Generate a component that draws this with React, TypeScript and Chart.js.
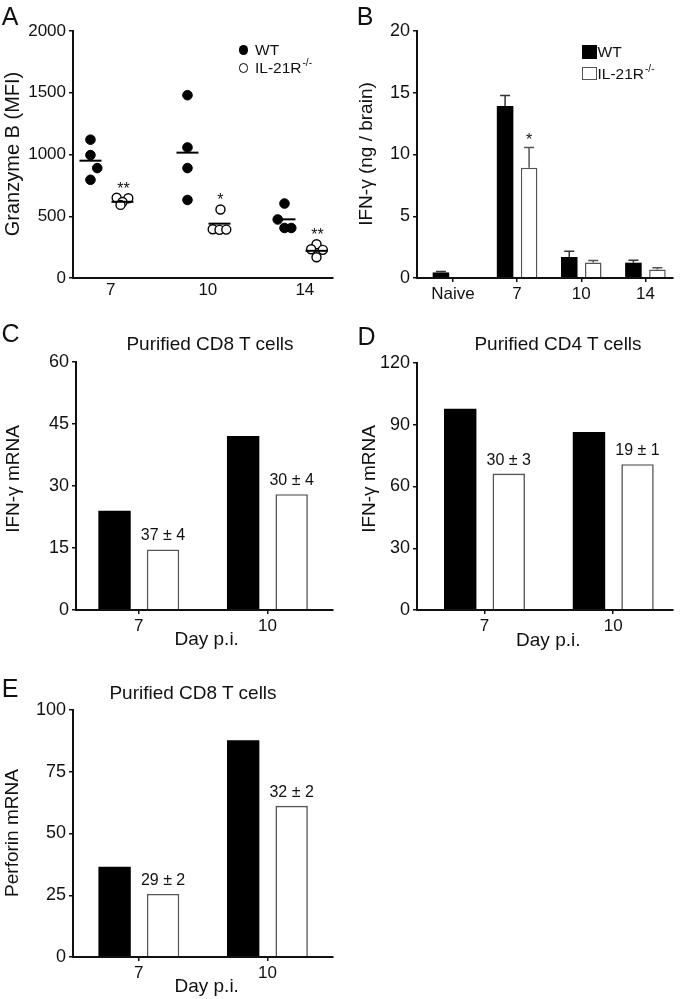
import React, { useEffect, useRef } from 'react';
import { Chart, registerables } from 'chart.js';
Chart.register(...registerables);

const FONT = "'Liberation Sans', Arial, Helvetica, sans-serif";
const W = 681;
const H = 999;
const YW = 60;
const XH = 30;
const INK = '#111';

// ---------- Panel A: Granzyme B (MFI) dot plot ----------
const daysA = ['7', '10', '14'];
const wtGranzyme = [
  [1120, 995, 890, 795],
  [1480, 1057, 890, 632],
  [603, 474, 405, 405],
];
const koGranzyme = [
  [650, 646, 615, 592],
  [555, 395, 390, 392],
  [273, 233, 228, 168],
];
const wtJitter = [
  [0, 0, 0.07, 0],
  [0, 0, 0, 0],
  [0, -0.07, 0, 0.07],
];
const koJitter = [
  [-0.06, 0.06, 0.0, -0.02],
  [0.01, -0.07, 0.0, 0.07],
  [0.0, -0.055, 0.065, 0.0],
];
const wtMeanA = [950, 1015, 475];
const koMeanA = [617, 440, 220];
const sigA = ['**', '*', '**'];

// ---------- Panel B: IFN-g (ng / brain) ----------
const groupsB = ['Naive', '7', '10', '14'];
const wtIfn = [0.45, 13.92, 1.7, 1.24];
const koIfn = [null, 8.92, 1.26, 0.68];
const wtIfnErr = [0.07, 0.85, 0.47, 0.2];
const koIfnErr = [null, 1.65, 0.15, 0.16];
const sigB = ['', '*', '', ''];

// ---------- Panels C, D, E ----------
const daysCDE = ['7', '10'];
const wtCd8Ifn = [24.0, 42.1];
const koCd8Ifn = [14.65, 28.0];
const noteC = ['37 ± 4', '30 ± 4'];
const wtCd4Ifn = [97.8, 86.5];
const koCd4Ifn = [66.3, 70.8];
const noteD = ['30 ± 3', '19 ± 1'];
const wtCd8Perf = [36.5, 87.8];
const koCd8Perf = [25.5, 61.2];
const noteE = ['29 ± 2', '32 ± 2'];

type Frame = { L: number; T: number; R: number; B: number };

const layoutFor = (f: Frame) => ({
  padding: { left: f.L - YW, top: f.T, right: W - f.R, bottom: H - f.B - XH },
});

const yAxis = (max: number, step: number, size = 18) => ({
  type: 'linear',
  min: 0,
  max,
  ticks: {
    stepSize: step,
    color: INK,
    font: { family: FONT, size },
    padding: 3,
    callback: (v: any) => String(v),
  },
  grid: { drawOnChartArea: false, drawTicks: true, tickLength: 4, color: INK, lineWidth: 1.5 },
  border: { display: true, color: INK, width: 2, z: 1 },
  afterFit: (s: any) => {
    s.width = YW;
  },
});

const xAxis = (min: number, max: number, labels: string[], ticksOn: boolean, size = 17) => ({
  type: 'linear',
  min,
  max,
  offset: false,
  ticks: {
    stepSize: 1,
    includeBounds: false,
    autoSkip: false,
    maxRotation: 0,
    minRotation: 0,
    color: INK,
    font: { family: FONT, size },
    padding: 2,
    callback: (v: any) => (Number.isInteger(v) && labels[v] !== undefined ? labels[v] : ''),
  },
  grid: {
    offset: false,
    drawOnChartArea: false,
    drawTicks: ticksOn,
    tickLength: ticksOn ? 4 : 0,
    color: INK,
    lineWidth: 1.5,
  },
  border: { display: true, color: INK, width: 2, z: 1 },
  afterFit: (s: any) => {
    s.height = XH;
  },
});

const basePlugins = { legend: { display: false }, tooltip: { enabled: false }, title: { display: false } };

// ---------- configs ----------
const WT_OFF = -0.21;
const KO_OFF = 0.12;

function configA(): any {
  const wtPts: any[] = [];
  const koPts: any[] = [];
  wtGranzyme.forEach((vals, d) =>
    vals.forEach((y, k) => wtPts.push({ x: d + WT_OFF + wtJitter[d][k], y }))
  );
  koGranzyme.forEach((vals, d) =>
    vals.forEach((y, k) => koPts.push({ x: d + KO_OFF + koJitter[d][k], y }))
  );
  const wtMeans = wtMeanA.map((y, d) => ({ x: d + WT_OFF, y }));
  const koMeans = koMeanA.map((y, d) => ({ x: d + KO_OFF, y }));
  const stars = {
    id: 'starsA',
    afterDatasetsDraw(chart: any) {
      const { ctx, scales } = chart;
      ctx.save();
      ctx.fillStyle = INK;
      ctx.font = `16px ${FONT}`;
      ctx.textAlign = 'center';
      ctx.textBaseline = 'alphabetic';
      sigA.forEach((s, d) => {
        const top = Math.max(...koGranzyme[d]);
        ctx.fillText(s, scales.x.getPixelForValue(d + KO_OFF + 0.01), scales.y.getPixelForValue(top) - 4);
      });
      ctx.restore();
    },
  };
  return {
    type: 'scatter',
    data: {
      datasets: [
        { label: 'WT mean', data: wtMeans, pointStyle: 'line', pointRadius: 11, pointBorderColor: '#000', pointBorderWidth: 2, order: 1 },
        { label: 'KO mean', data: koMeans, pointStyle: 'line', pointRadius: 11, pointBorderColor: '#000', pointBorderWidth: 2, order: 1 },
        { label: 'WT', data: wtPts, pointRadius: 4.8, pointBackgroundColor: '#000', pointBorderColor: '#000', pointBorderWidth: 1, order: 2 },
        { label: 'IL-21R-/-', data: koPts, pointRadius: 4.5, pointBackgroundColor: '#fff', pointBorderColor: '#000', pointBorderWidth: 1.4, order: 2 },
      ],
    },
    options: {
      responsive: false,
      maintainAspectRatio: false,
      animation: false,
      devicePixelRatio: 1,
      layout: layoutFor({ L: 73, T: 31, R: 333, B: 278 }),
      plugins: basePlugins,
      scales: {
        x: xAxis(-0.39, 2.29, daysA, false, 17),
        y: yAxis(2000, 500, 17),
      },
    },
    plugins: [stars],
  };
}

function configB(): any {
  const errPlugin = {
    id: 'errB',
    afterDatasetsDraw(chart: any) {
      const { ctx, scales } = chart;
      ctx.save();
      ctx.lineWidth = 1.5;
      [wtIfnErr, koIfnErr].forEach((errs, di) => {
        const vals = di === 0 ? wtIfn : koIfn;
        const meta = chart.getDatasetMeta(di);
        ctx.strokeStyle = di === 0 ? '#333' : '#555';
        meta.data.forEach((el: any, i: number) => {
          const v = vals[i];
          const e = errs[i];
          if (v == null || e == null) return;
          const top = scales.y.getPixelForValue(v + e);
          ctx.beginPath();
          ctx.moveTo(el.x, el.y);
          ctx.lineTo(el.x, top);
          ctx.moveTo(el.x - 5, top);
          ctx.lineTo(el.x + 5, top);
          ctx.stroke();
        });
      });
      ctx.fillStyle = INK;
      ctx.font = `16px ${FONT}`;
      ctx.textAlign = 'center';
      ctx.textBaseline = 'alphabetic';
      const meta = chart.getDatasetMeta(1);
      sigB.forEach((s, i) => {
        if (!s) return;
        const v = (koIfn[i] as number) + (koIfnErr[i] as number);
        ctx.fillText(s, meta.data[i].x, scales.y.getPixelForValue(v) - 2);
      });
      ctx.restore();
    },
  };
  return {
    type: 'bar',
    data: {
      datasets: [
        {
          label: 'WT',
          data: wtIfn.map((y, i) => ({ x: i, y })),
          backgroundColor: '#000',
          borderColor: '#000',
          borderWidth: 0,
          categoryPercentage: 0.748,
          barPercentage: 0.69,
        },
        {
          label: 'IL-21R-/-',
          data: koIfn.map((y, i) => ({ x: i, y })),
          backgroundColor: '#fff',
          borderColor: '#555',
          borderWidth: 1.5,
          categoryPercentage: 0.748,
          barPercentage: 0.69,
        },
      ],
    },
    options: {
      responsive: false,
      maintainAspectRatio: false,
      animation: false,
      devicePixelRatio: 1,
      layout: layoutFor({ L: 417, T: 31, R: 673, B: 278 }),
      plugins: basePlugins,
      scales: {
        x: xAxis(-0.56, 3.43, groupsB, true, 17),
        y: yAxis(20, 5, 18),
      },
    },
    plugins: [errPlugin],
  };
}

function configMrna(
  wt: number[],
  ko: number[],
  notes: string[],
  yMax: number,
  yStep: number,
  frame: Frame,
  xMin: number,
  xMax: number
): any {
  const notePlugin = {
    id: 'notes',
    afterDatasetsDraw(chart: any) {
      const { ctx } = chart;
      const meta = chart.getDatasetMeta(1);
      ctx.save();
      ctx.fillStyle = INK;
      ctx.font = `16px ${FONT}`;
      ctx.textAlign = 'center';
      ctx.textBaseline = 'alphabetic';
      notes.forEach((n, i) => {
        const el = meta.data[i];
        ctx.fillText(n, el.x, el.y - 9);
      });
      ctx.restore();
    },
  };
  return {
    type: 'bar',
    data: {
      datasets: [
        {
          label: 'WT',
          data: wt.map((y, i) => ({ x: i, y })),
          backgroundColor: '#000',
          borderColor: '#000',
          borderWidth: 0,
          categoryPercentage: 0.754,
          barPercentage: 0.668,
        },
        {
          label: 'IL-21R-/-',
          data: ko.map((y, i) => ({ x: i, y })),
          backgroundColor: '#fff',
          borderColor: '#555',
          borderWidth: 1.6,
          categoryPercentage: 0.754,
          barPercentage: 0.668,
        },
      ],
    },
    options: {
      responsive: false,
      maintainAspectRatio: false,
      animation: false,
      devicePixelRatio: 1,
      layout: layoutFor(frame),
      plugins: basePlugins,
      scales: {
        x: xAxis(xMin, xMax, daysCDE, true, 17),
        y: yAxis(yMax, yStep, 18),
      },
    },
    plugins: [notePlugin],
  };
}

function ChartCanvas({ make }: { make: () => any }) {
  const ref = useRef<HTMLCanvasElement | null>(null);
  useEffect(() => {
    if (!ref.current) return;
    const chart = new Chart(ref.current, make());
    return () => chart.destroy();
  }, [make]);
  return (
    <canvas
      ref={ref}
      width={W}
      height={H}
      style={{ position: 'absolute', left: 0, top: 0, width: W, height: H }}
    />
  );
}

function Txt({
  x,
  y,
  size,
  children,
  rotate = false,
  left = false,
}: {
  x: number;
  y: number;
  size: number;
  children: any;
  rotate?: boolean;
  left?: boolean;
}) {
  return (
    <div
      style={{
        position: 'absolute',
        left: x,
        top: y,
        fontFamily: FONT,
        fontSize: size,
        lineHeight: 1,
        whiteSpace: 'nowrap',
        color: INK,
        transform: left
          ? 'translate(0,-50%)'
          : `translate(-50%,-50%)${rotate ? ' rotate(-90deg)' : ''}`,
      }}
    >
      {children}
    </div>
  );
}

const Sup = () => (
  <span style={{ fontSize: 10, position: 'relative', top: -7, marginLeft: 1 }}>-/-</span>
);

const makeC = () =>
  configMrna(wtCd8Ifn, koCd8Ifn, noteC, 60, 15, { L: 76, T: 362, R: 333, B: 610 }, -0.488, 1.51);
const makeD = () =>
  configMrna(wtCd4Ifn, koCd4Ifn, noteD, 120, 30, { L: 417, T: 363, R: 673, B: 610 }, -0.524, 1.464);
const makeE = () =>
  configMrna(wtCd8Perf, koCd8Perf, noteE, 100, 25, { L: 73, T: 710, R: 333, B: 957 }, -0.512, 1.51);

export default function App() {
  return (
    <div
      style={{
        position: 'absolute',
        left: 0,
        top: 0,
        width: W,
        height: H,
        background: '#fff',
        overflow: 'hidden',
      }}
    >
      <ChartCanvas make={configA} />
      <ChartCanvas make={configB} />
      <ChartCanvas make={makeC} />
      <ChartCanvas make={makeD} />
      <ChartCanvas make={makeE} />

      {/* panel letters */}
      <Txt x={10} y={16} size={25}>A</Txt>
      <Txt x={365} y={16} size={25}>B</Txt>
      <Txt x={10.5} y={332.5} size={25}>C</Txt>
      <Txt x={366.5} y={335.5} size={25}>D</Txt>
      <Txt x={10} y={687.5} size={25}>E</Txt>

      {/* axis titles */}
      <Txt x={12} y={154} size={20} rotate>Granzyme B (MFI)</Txt>
      <Txt x={365} y={154} size={19} rotate>IFN-γ (ng / brain)</Txt>
      <Txt x={12} y={479} size={19} rotate>IFN-γ mRNA</Txt>
      <Txt x={368} y={479} size={19} rotate>IFN-γ mRNA</Txt>
      <Txt x={11} y={833} size={19} rotate>Perforin mRNA</Txt>

      {/* panel titles */}
      <Txt x={210} y={343.3} size={19}>Purified CD8 T cells</Txt>
      <Txt x={558} y={343} size={19}>Purified CD4 T cells</Txt>
      <Txt x={193} y={691.7} size={19}>Purified CD8 T cells</Txt>

      <Txt x={206.7} y={638} size={19}>Day p.i.</Txt>
      <Txt x={548.3} y={639} size={19}>Day p.i.</Txt>
      <Txt x={206.7} y={985} size={19}>Day p.i.</Txt>

      {/* legend A */}
      <div style={{ position: 'absolute', left: 238.5, top: 45.2, width: 9.6, height: 9.6, borderRadius: '50%', background: '#000' }} />
      <div style={{ position: 'absolute', left: 238.5, top: 63.2, width: 9.6, height: 9.6, borderRadius: '50%', background: '#fff', border: '1.4px solid #000', boxSizing: 'border-box' }} />
      <Txt x={255} y={50} size={15.5} left>WT</Txt>
      <Txt x={255} y={68} size={15.5} left>IL-21R<Sup /></Txt>

      {/* legend B */}
      <div style={{ position: 'absolute', left: 582, top: 45, width: 15, height: 14.3, background: '#000' }} />
      <div style={{ position: 'absolute', left: 582, top: 66.5, width: 15, height: 13.5, background: '#fff', border: '1.3px solid #555', boxSizing: 'border-box' }} />
      <Txt x={597.5} y={52} size={15.5} left>WT</Txt>
      <Txt x={597.5} y={73.5} size={15.5} left>IL-21R<Sup /></Txt>
    </div>
  );
}
